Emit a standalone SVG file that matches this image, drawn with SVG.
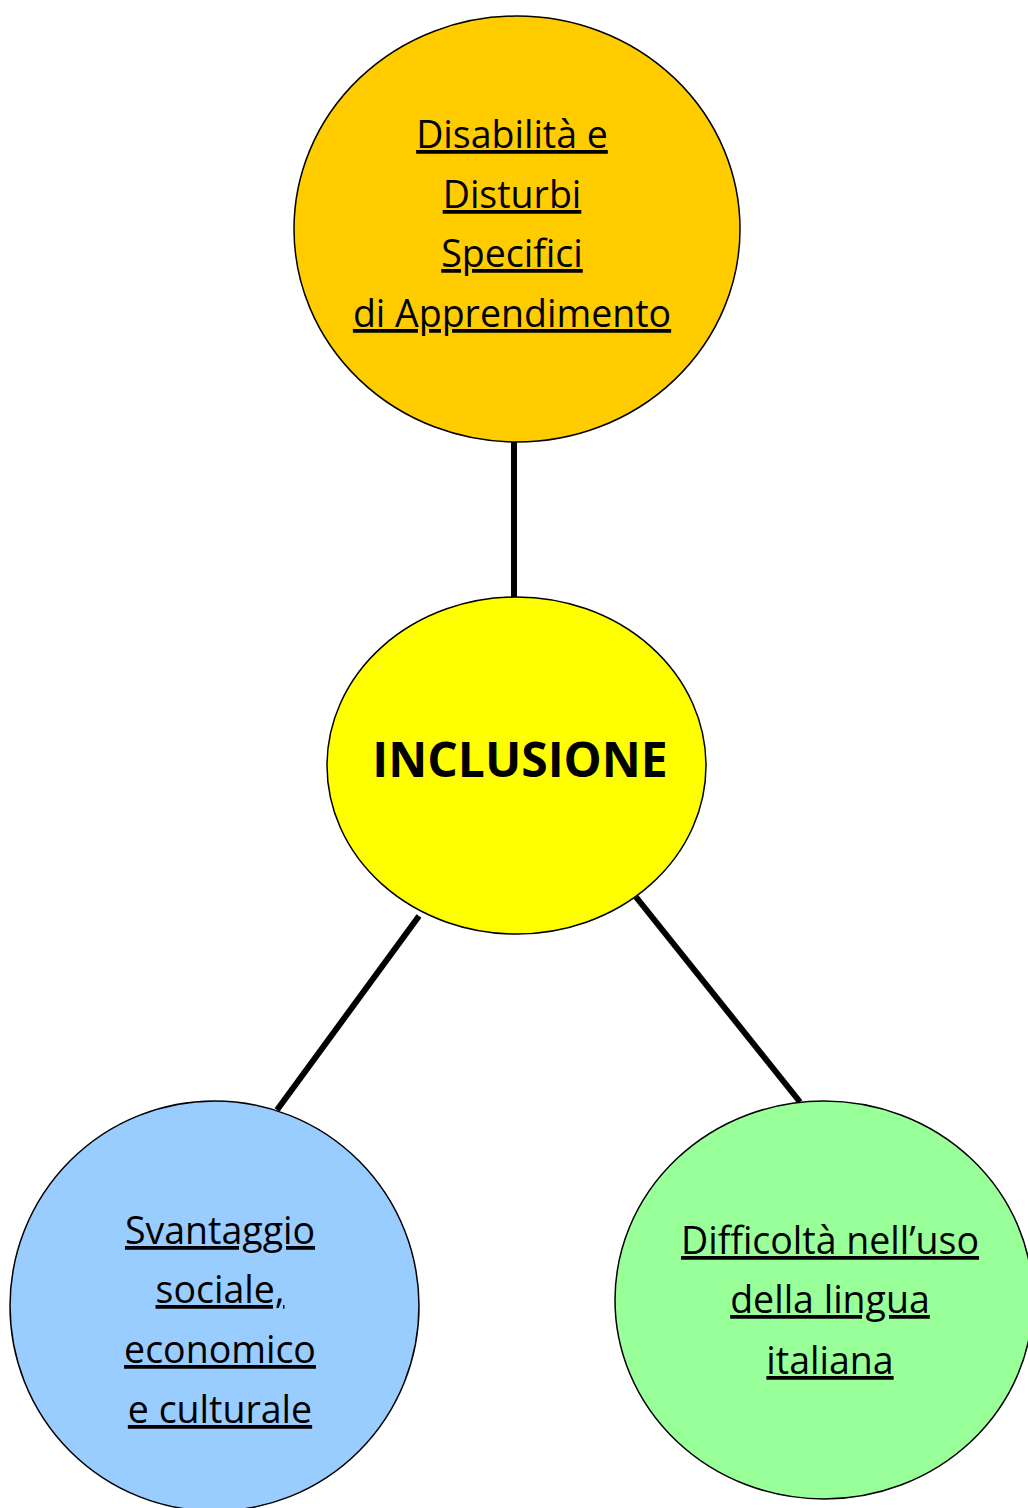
<svg xmlns="http://www.w3.org/2000/svg" width="1028" height="1508" viewBox="0 0 1028 1508">
  <style>
    .node { stroke: #000; stroke-width: 1.5; }
    .lbl { font-family: "Open Sans", "Liberation Sans", sans-serif; font-size: 37.5px; fill: #000; text-anchor: middle; text-decoration: underline; text-decoration-skip-ink: none; text-decoration-thickness: 2px; }
    .main { font-family: "Open Sans", "Liberation Sans", sans-serif; font-size: 48px; font-weight: bold; fill: #000; text-anchor: middle; }
    .conn { stroke: #000; stroke-width: 6; fill: none; }
  </style>
  <rect width="1028" height="1508" fill="#fff"/>
  <g id="connectors">
    <line class="conn" x1="514" y1="442" x2="514" y2="598"/>
    <line class="conn" x1="419" y1="916" x2="277" y2="1110"/>
    <line class="conn" x1="636" y1="897" x2="800" y2="1102"/>
  </g>
  <g id="node-disabilita">
    <ellipse class="node" cx="517" cy="229" rx="223" ry="213" fill="#FFCC00"/>
    <text class="lbl" x="512" y="148">Disabilità e</text>
    <text class="lbl" x="512" y="208">Disturbi</text>
    <text class="lbl" x="512" y="267">Specifici</text>
    <text class="lbl" x="512" y="327">di Apprendimento</text>
  </g>
  <g id="node-inclusione">
    <ellipse class="node" cx="516.5" cy="765.5" rx="189.5" ry="168.5" fill="#FFFF00"/>
    <text class="main" x="520" y="777">INCLUSIONE</text>
  </g>
  <g id="node-svantaggio">
    <ellipse class="node" cx="214.5" cy="1306" rx="204.5" ry="205" fill="#99CCFF"/>
    <text class="lbl" x="220" y="1244">Svantaggio</text>
    <text class="lbl" x="220" y="1303">sociale,</text>
    <text class="lbl" x="220" y="1363">economico</text>
    <text class="lbl" x="220" y="1423">e culturale</text>
  </g>
  <g id="node-lingua">
    <ellipse class="node" cx="824" cy="1300" rx="209" ry="199" fill="#99FF99"/>
    <text class="lbl" x="830" y="1254">Difficoltà nell’uso</text>
    <text class="lbl" x="830" y="1313">della lingua</text>
    <text class="lbl" x="830" y="1374">italiana</text>
  </g>
</svg>
